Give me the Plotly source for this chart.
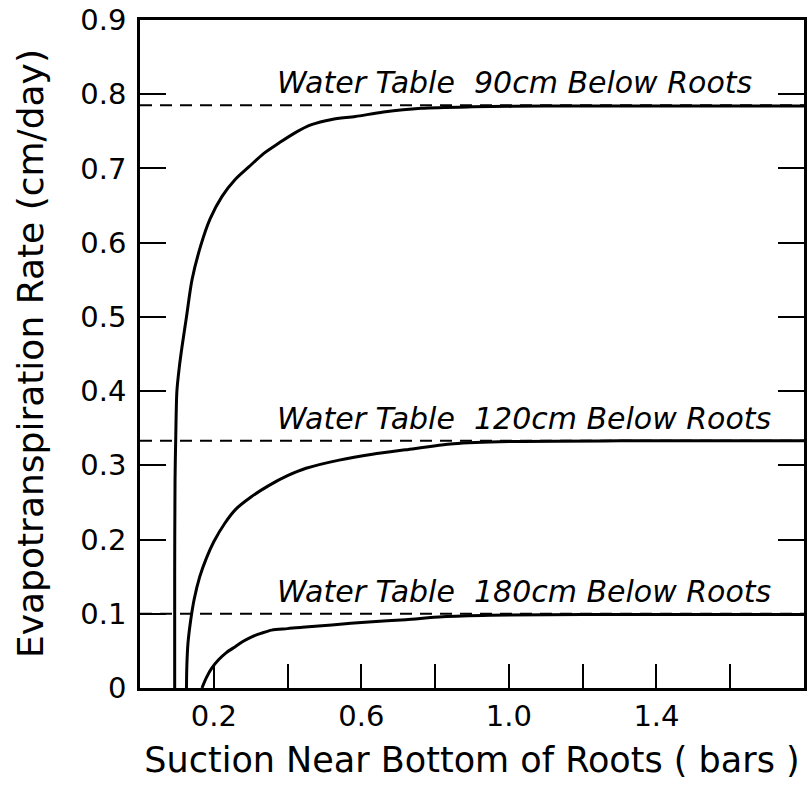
import plotly.graph_objects as go

# Data
x_90 = [0.094, 0.094, 0.095, 0.097, 0.100, 0.106, 0.114, 0.126, 0.141, 0.164, 0.190, 0.222,
        0.258, 0.295, 0.335, 0.376, 0.42, 0.465, 0.52, 0.584, 0.66, 0.762, 0.9, 1.1, 1.4, 1.8]
y_90 = [0.0, 0.15, 0.28, 0.34, 0.40, 0.43, 0.46, 0.50, 0.55, 0.595, 0.632, 0.662,
        0.685, 0.702, 0.72, 0.734, 0.748, 0.759, 0.766, 0.770, 0.776, 0.781, 0.783, 0.784, 0.784, 0.784]

x_120 = [0.126, 0.127, 0.130, 0.137, 0.147, 0.162, 0.180, 0.200, 0.23, 0.26, 0.30, 0.35,
         0.40, 0.45, 0.54, 0.63, 0.72, 0.85, 1.0, 1.3, 1.8]
y_120 = [0.0, 0.03, 0.06, 0.09, 0.12, 0.15, 0.175, 0.197, 0.222, 0.241, 0.257, 0.273,
         0.286, 0.296, 0.307, 0.315, 0.321, 0.329, 0.332, 0.333, 0.333]

x_180 = [0.168, 0.18, 0.195, 0.213, 0.235, 0.259, 0.28, 0.303, 0.33, 0.357, 0.40, 0.44,
         0.52, 0.62, 0.72, 0.82, 0.95, 1.2, 1.8]
y_180 = [0.0, 0.014, 0.027, 0.038, 0.048, 0.056, 0.063, 0.069, 0.074, 0.078, 0.080, 0.082,
         0.085, 0.089, 0.092, 0.096, 0.098, 0.099, 0.099]

limit_levels = [0.785, 0.333, 0.1]
limit_labels = ["Water Table &nbsp;90cm Below Roots",
                "Water Table &nbsp;120cm Below Roots",
                "Water Table &nbsp;180cm Below Roots"]

x_tickvals = [0.2, 0.4, 0.6, 0.8, 1.0, 1.2, 1.4, 1.6]
x_ticktext = ["0.2", "", "0.6", "", "1.0", "", "1.4", ""]
y_tickvals = [0, 0.1, 0.2, 0.3, 0.4, 0.5, 0.6, 0.7, 0.8, 0.9]
y_ticktext = ["0", "0.1", "0.2", "0.3", "0.4", "0.5", "0.6", "0.7", "0.8", "0.9"]

x_title = "Suction Near Bottom of Roots ( bars )"
y_title = "Evapotranspiration Rate (cm/day)"

FONT = "DejaVu Sans"

fig = go.Figure()

for lvl in limit_levels:
    fig.add_trace(go.Scatter(x=[0, 1.8], y=[lvl, lvl], mode="lines",
                             line=dict(color="black", width=2, dash="12px,8px"),
                             showlegend=False, hoverinfo="skip"))

for xs, ys in [(x_90, y_90), (x_120, y_120), (x_180, y_180)]:
    fig.add_trace(go.Scatter(x=xs, y=ys, mode="lines",
                             line=dict(color="black", width=3, shape="spline", smoothing=0.8),
                             showlegend=False))

for lvl, txt in zip(limit_levels, limit_labels):
    fig.add_annotation(x=0.367, y=lvl + 0.004, text="<i>" + txt + "</i>",
                       xanchor="left", yanchor="bottom", showarrow=False,
                       font=dict(family=FONT, size=30, color="black"))

fig.add_annotation(x=0, y=0.5, xref="paper", yref="paper", text=y_title,
                   textangle=-90, xanchor="center", yanchor="middle", xshift=-110,
                   showarrow=False, font=dict(family=FONT, size=36, color="black"))

fig.update_xaxes(range=[0, 1.8], tickvals=x_tickvals, ticktext=x_ticktext,
                 ticks="inside", ticklen=24, tickwidth=2, tickcolor="black",
                 showline=True, linewidth=2.5, linecolor="black", mirror=True,
                 showgrid=False, zeroline=False,
                 tickfont=dict(family=FONT, size=29, color="black"),
                 ticklabelstandoff=0,
                 title=dict(text=x_title,
                            font=dict(family=FONT, size=35, color="black"), standoff=16))
fig.update_yaxes(range=[0, 0.9], tickvals=y_tickvals, ticktext=y_ticktext,
                 ticks="inside", ticklen=26, tickwidth=2, tickcolor="black",
                 showline=True, linewidth=2.5, linecolor="black", mirror="allticks",
                 showgrid=False, zeroline=False,
                 tickfont=dict(family=FONT, size=29, color="black"),
                 ticklabelstandoff=5)

fig.update_layout(width=809, height=787, margin=dict(l=140, r=2, t=20, b=99),
                  plot_bgcolor="white", paper_bgcolor="white")

fig.write_html("out.html")
